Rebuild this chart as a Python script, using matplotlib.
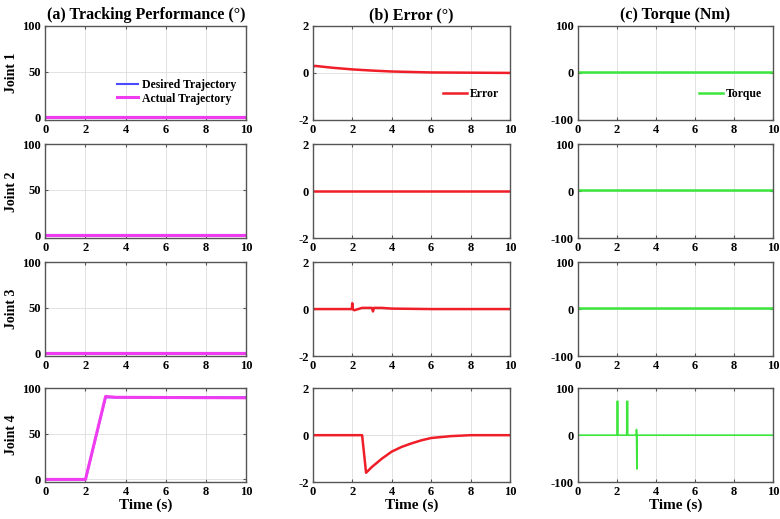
import matplotlib
matplotlib.use('Agg')
from matplotlib import pyplot as plt

# Time axis breakpoints and values
t_flat = [0, 10]
zero_flat = [0, 0]

t_track4 = [0, 2.0, 3.0, 3.5, 10]
desired4 = [0, 0, 90, 90, 90]
actual4 = [0, 0, 91, 90, 89.5]

t_err1 = [0, 0.1, 1, 2, 3, 4, 5, 6, 8, 10]
err1 = [0.25, 0.3, 0.22, 0.15, 0.1, 0.06, 0.04, 0.02, 0.01, 0.0]
t_err2 = [0, 10]
err2 = [0, 0]
t_err3 = [0, 1.98, 2.0, 2.02, 2.1, 2.5, 3.0, 3.05, 3.1, 3.5, 4, 6, 10]
err3 = [0, 0, 0.25, 0, -0.05, 0.05, 0.05, -0.1, 0.05, 0.05, 0.02, 0, 0]
t_err4 = [0, 2.5, 2.7, 3, 3.5, 4, 4.5, 5, 5.5, 6, 7, 8, 10]
err4 = [0, 0, -1.6, -1.35, -1.0, -0.7, -0.5, -0.35, -0.22, -0.12, -0.04, 0, 0]

t_tau = [0, 10]
tau_flat = [2, 2]
t_tau4 = [0, 2.00, 2.00, 2.05, 2.05, 2.50, 2.50, 2.55, 2.55, 3.00, 3.00, 3.02, 3.02, 10]
tau4 = [0, 0, 72, 72, 0, 0, 72, 72, 0, 0, 12, -72, 0, 0]

joint_labels = ['Joint 1', 'Joint 2', 'Joint 3', 'Joint 4']
col_titles = ['(a) Tracking Performance (°)', '(b) Error (°)', '(c) Torque (Nm)']
x_ticks = [0, 2, 4, 6, 8, 10]

plt.rcParams['font.family'] = ['Liberation Serif', 'DejaVu Serif']
plt.rcParams['font.weight'] = 'bold'
plt.rcParams['axes.unicode_minus'] = False

fig = plt.figure(figsize=(7.8, 5.19), dpi=100)

col_left = [0.058, 0.401, 0.741]
col_width = [0.258, 0.253, 0.250]
row_bottom = [0.769, 0.541, 0.314, 0.071]
row_height = 0.181

blue = '#4a4aff'
magenta = '#f03cf0'
red = '#f01e28'
green = '#3ce63c'


def style(ax, ylim, yticks):
    ax.set_xlim(0, 10)
    ax.set_ylim(*ylim)
    ax.set_xticks(x_ticks)
    ax.set_yticks(yticks)
    ax.grid(True, color='#dddddd', linewidth=0.6)
    ax.tick_params(direction='in', length=2, labelsize=9, pad=3,
                   top=True, right=True, color='#555555')
    for s in ax.spines.values():
        s.set_color('#555555')
        s.set_linewidth(1.0)
    for lab in ax.get_xticklabels() + ax.get_yticklabels():
        lab.set_fontweight('bold')


err_t = [t_err1, t_err2, t_err3, t_err4]
err_v = [err1, err2, err3, err4]

for r in range(4):
    # column (a) tracking
    ax = fig.add_axes([col_left[0], row_bottom[r], col_width[0], row_height])
    if r < 3:
        ax.plot(t_flat, zero_flat, color=blue, linewidth=1.5, label='Desired Trajectory')
        ax.plot(t_flat, zero_flat, color=magenta, linewidth=2.2, label='Actual Trajectory')
    else:
        ax.plot(t_track4, desired4, color=blue, linewidth=1.5, label='Desired Trajectory')
        ax.plot(t_track4, actual4, color=magenta, linewidth=2.2, label='Actual Trajectory')
    style(ax, (-3, 100), [0, 50, 100])
    ax.set_ylabel(joint_labels[r], fontsize=10, fontweight='bold', labelpad=3)
    if r == 0:
        ax.set_title(col_titles[0], fontsize=11.5, fontweight='bold', pad=5)
        ax.legend(loc='lower right', bbox_to_anchor=(1.0, 0.05), frameon=False,
                  fontsize=8.5, handlelength=1.8, handletextpad=0.3, labelspacing=0.15)
    if r == 3:
        ax.set_xlabel('Time (s)', fontsize=11, fontweight='bold', labelpad=0)

    # column (b) error
    ax = fig.add_axes([col_left[1], row_bottom[r], col_width[1], row_height])
    ax.plot(err_t[r], err_v[r], color=red, linewidth=1.8, label='Error')
    style(ax, (-2, 2), [-2, 0, 2])
    if r == 0:
        ax.set_title(col_titles[1], fontsize=11.5, fontweight='bold', pad=5)
        ax.legend(loc='lower right', bbox_to_anchor=(1.0, 0.1), frameon=False,
                  fontsize=8.5, handlelength=2.0, handletextpad=0.3)
    if r == 3:
        ax.set_xlabel('Time (s)', fontsize=11, fontweight='bold', labelpad=0)

    # column (c) torque
    ax = fig.add_axes([col_left[2], row_bottom[r], col_width[2], row_height])
    if r < 3:
        ax.plot(t_tau, tau_flat, color=green, linewidth=1.8, label='Torque')
    else:
        ax.plot(t_tau4, tau4, color=green, linewidth=1.2, label='Torque')
    style(ax, (-100, 100), [-100, 0, 100])
    if r == 0:
        ax.set_title(col_titles[2], fontsize=11.5, fontweight='bold', pad=5)
        ax.legend(loc='lower right', bbox_to_anchor=(1.0, 0.1), frameon=False,
                  fontsize=8.5, handlelength=2.0, handletextpad=0.3)
    if r == 3:
        ax.set_xlabel('Time (s)', fontsize=11, fontweight='bold', labelpad=0)

fig.savefig('out.png', dpi=100)
plt.close(fig)
